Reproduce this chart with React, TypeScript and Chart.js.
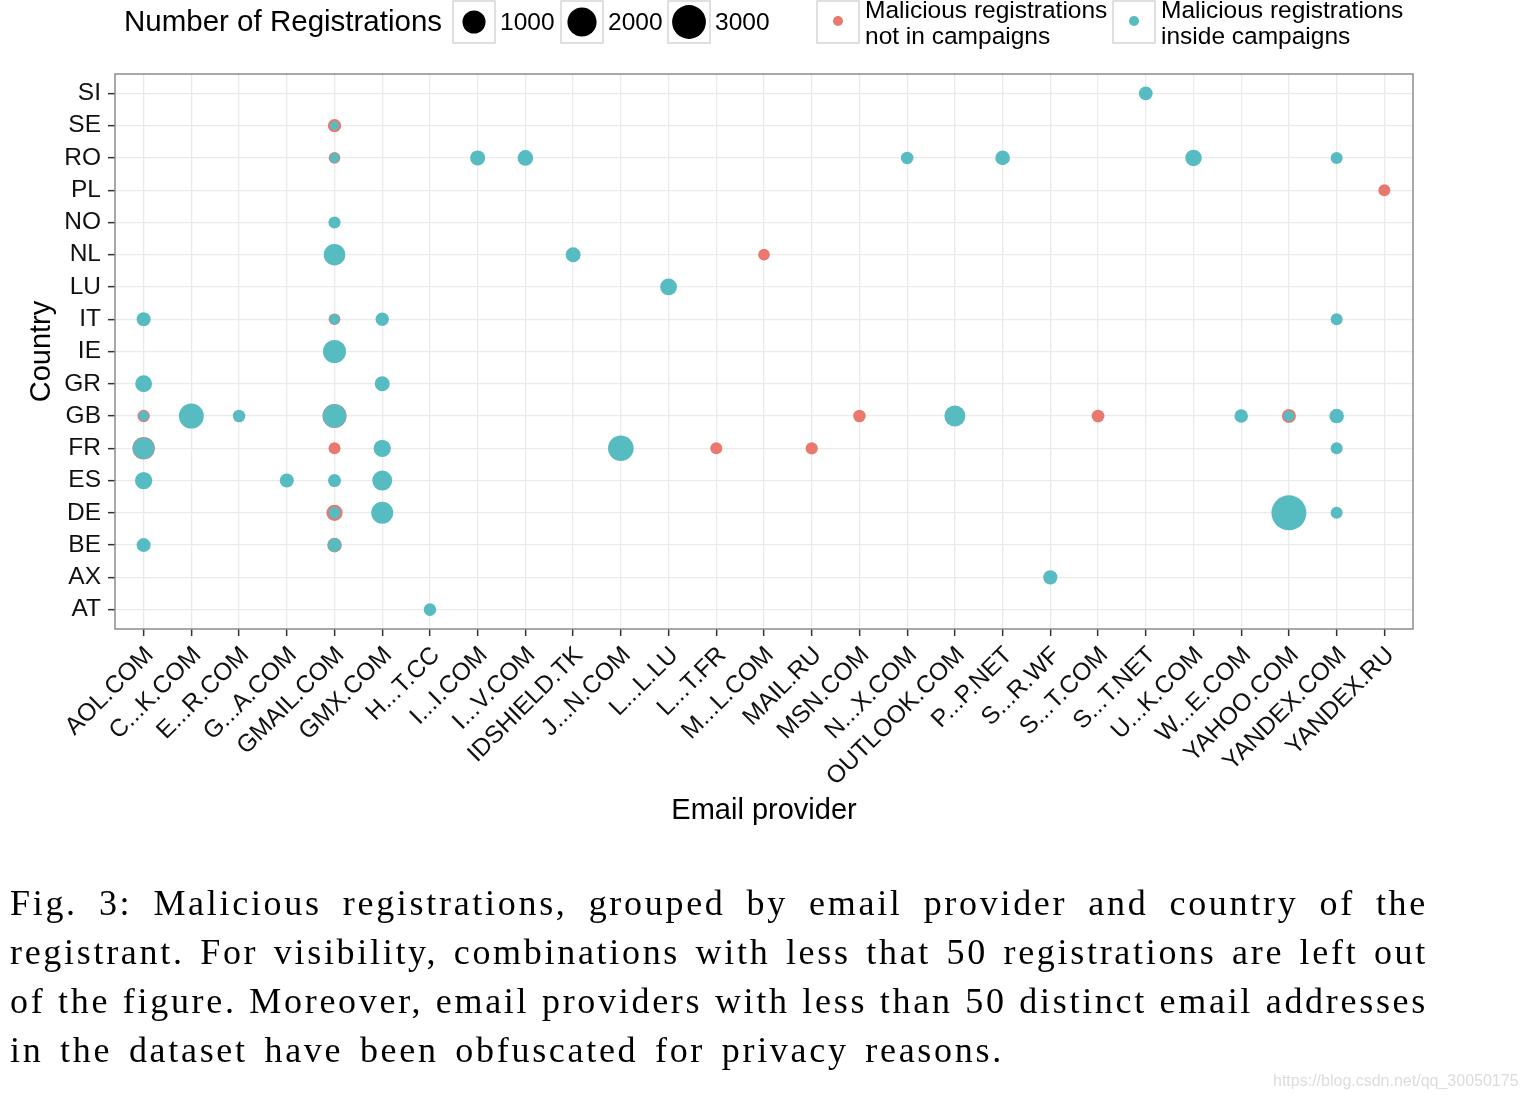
import React, { useEffect, useRef } from 'react';
import { Chart, registerables } from 'chart.js';

Chart.register(...registerables);

// ---------- data ----------
const providers = [
  'AOL.COM', 'C...K.COM', 'E...R.COM', 'G...A.COM', 'GMAIL.COM', 'GMX.COM', 'H...T.CC',
  'I...I.COM', 'I...V.COM', 'IDSHIELD.TK', 'J...N.COM', 'L...L.LU', 'L...T.FR', 'M...L.COM',
  'MAIL.RU', 'MSN.COM', 'N...X.COM', 'OUTLOOK.COM', 'P...P.NET', 'S...R.WF', 'S...T.COM',
  'S...T.NET', 'U...K.COM', 'W...E.COM', 'YAHOO.COM', 'YANDEX.COM', 'YANDEX.RU',
];

const countries = ['AT', 'AX', 'BE', 'DE', 'ES', 'FR', 'GB', 'GR', 'IE', 'IT', 'LU', 'NL', 'NO', 'PL', 'RO', 'SE', 'SI'];

// Malicious registrations inside campaigns
const insideProvider = [
  'AOL.COM', 'AOL.COM', 'AOL.COM', 'AOL.COM', 'AOL.COM', 'AOL.COM',
  'C...K.COM', 'E...R.COM', 'G...A.COM',
  'GMAIL.COM', 'GMAIL.COM', 'GMAIL.COM', 'GMAIL.COM', 'GMAIL.COM', 'GMAIL.COM', 'GMAIL.COM', 'GMAIL.COM', 'GMAIL.COM', 'GMAIL.COM',
  'GMX.COM', 'GMX.COM', 'GMX.COM', 'GMX.COM', 'GMX.COM',
  'H...T.CC', 'I...I.COM', 'I...V.COM', 'IDSHIELD.TK', 'J...N.COM', 'L...L.LU',
  'N...X.COM', 'OUTLOOK.COM', 'P...P.NET', 'S...R.WF', 'S...T.NET', 'U...K.COM', 'W...E.COM',
  'YAHOO.COM', 'YAHOO.COM',
  'YANDEX.COM', 'YANDEX.COM', 'YANDEX.COM', 'YANDEX.COM', 'YANDEX.COM',
];
const insideCountry = [
  'BE', 'ES', 'FR', 'GB', 'GR', 'IT',
  'GB', 'GB', 'ES',
  'SE', 'RO', 'NO', 'NL', 'IT', 'IE', 'GB', 'ES', 'DE', 'BE',
  'IT', 'GR', 'FR', 'ES', 'DE',
  'AT', 'RO', 'RO', 'NL', 'FR', 'LU',
  'RO', 'GB', 'RO', 'AX', 'SI', 'RO', 'GB',
  'GB', 'DE',
  'RO', 'IT', 'GB', 'FR', 'DE',
];
const insideCount = [
  170, 380, 800, 55, 350, 170,
  1280, 110, 170,
  50, 55, 95, 800, 60, 1000, 1050, 127, 93, 150,
  140, 223, 380, 631, 860,
  110, 223, 260, 223, 1380, 340,
  110, 740, 200, 180, 160, 320, 150,
  65, 3300,
  93, 93, 200, 93, 93,
];

// Malicious registrations not in campaigns
const outsideProvider = [
  'AOL.COM', 'AOL.COM',
  'GMAIL.COM', 'GMAIL.COM', 'GMAIL.COM', 'GMAIL.COM', 'GMAIL.COM', 'GMAIL.COM', 'GMAIL.COM',
  'L...T.FR', 'M...L.COM', 'MAIL.RU', 'MSN.COM', 'S...T.COM', 'YAHOO.COM', 'YANDEX.RU',
];
const outsideCountry = [
  'GB', 'FR',
  'SE', 'RO', 'IT', 'GB', 'FR', 'DE', 'BE',
  'FR', 'NL', 'FR', 'GB', 'GB', 'GB', 'PL',
];
const outsideCount = [
  105, 930,
  140, 85, 85, 1140, 93, 300, 200,
  93, 85, 100, 110, 120, 170, 93,
];

const legendSizes = [1000, 2000, 3000];

const captionLines = [
  'Fig. 3: Malicious registrations, grouped by email provider and country of the',
  'registrant. For visibility, combinations with less that 50 registrations are left out',
  'of the figure. Moreover, email providers with less than 50 distinct email addresses',
  'in the dataset have been obfuscated for privacy reasons.',
];

// ---------- styles ----------
const TEAL = '#56BCC2';
const RED = '#E9796F';
const SANS = '"Liberation Sans", Arial, sans-serif';

function sizeToRadius(v: number): number {
  return 4.5 + 13.5 * Math.sqrt(Math.max(0, v - 50) / 3500);
}

function toPoints(p: string[], c: string[], v: number[]) {
  return p.map((name, i) => ({ x: providers.indexOf(name), y: countries.indexOf(c[i]), v: v[i] }));
}

const overlayPlugin = {
  id: 'overlay',
  afterDraw(chart: any) {
    const ctx: CanvasRenderingContext2D = chart.ctx;
    const a = chart.chartArea;
    ctx.save();
    // panel border
    ctx.strokeStyle = '#8c8c8c';
    ctx.lineWidth = 1.5;
    ctx.strokeRect(a.left, a.top, a.right - a.left, a.bottom - a.top);

    // axis titles
    ctx.fillStyle = '#000';
    ctx.font = `29px ${SANS}`;
    ctx.textAlign = 'center';
    ctx.textBaseline = 'middle';
    ctx.fillText('Email provider', (a.left + a.right) / 2, 811);
    ctx.save();
    ctx.translate(42, (a.top + a.bottom) / 2);
    ctx.rotate(-Math.PI / 2);
    ctx.fillText('Country', 0, 0);
    ctx.restore();

    // legend: size
    ctx.textAlign = 'left';
    ctx.font = `29.5px ${SANS}`;
    ctx.fillText('Number of Registrations', 124, 23);
    const boxX = [453, 561, 668];
    ctx.font = `24.5px ${SANS}`;
    legendSizes.forEach((s, i) => {
      const bx = boxX[i];
      ctx.strokeStyle = '#d6d6d6';
      ctx.lineWidth = 1.5;
      ctx.strokeRect(bx, 1, 42, 42);
      ctx.fillStyle = '#000';
      ctx.beginPath();
      ctx.arc(bx + 21, 22, sizeToRadius(s), 0, Math.PI * 2);
      ctx.fill();
      ctx.fillText(String(s), bx + 47, 23);
    });

    // legend: colour
    const colorKeys = [
      { x: 817, color: RED, lines: ['Malicious registrations', 'not in campaigns'] },
      { x: 1113, color: TEAL, lines: ['Malicious registrations', 'inside campaigns'] },
    ];
    colorKeys.forEach((k) => {
      ctx.strokeStyle = '#d6d6d6';
      ctx.lineWidth = 1.5;
      ctx.strokeRect(k.x, 1, 42, 42);
      ctx.fillStyle = k.color;
      ctx.beginPath();
      ctx.arc(k.x + 21, 21, 5, 0, Math.PI * 2);
      ctx.fill();
      ctx.fillStyle = '#000';
      ctx.fillText(k.lines[0], k.x + 48, 11);
      ctx.fillText(k.lines[1], k.x + 48, 37);
    });
    ctx.restore();
  },
};

export default function App() {
  const canvasRef = useRef<HTMLCanvasElement | null>(null);

  useEffect(() => {
    if (!canvasRef.current) return;
    const tickFont = { family: SANS, size: 24.5 };
    const chart = new Chart(canvasRef.current, {
      type: 'scatter',
      data: {
        datasets: [
          {
            label: 'Malicious registrations inside campaigns',
            data: toPoints(insideProvider, insideCountry, insideCount),
            backgroundColor: TEAL,
            borderWidth: 0,
            pointRadius: (ctx: any) => sizeToRadius(ctx.raw ? ctx.raw.v : 50),
            pointHoverRadius: (ctx: any) => sizeToRadius(ctx.raw ? ctx.raw.v : 50),
          },
          {
            label: 'Malicious registrations not in campaigns',
            data: toPoints(outsideProvider, outsideCountry, outsideCount),
            backgroundColor: RED,
            borderWidth: 0,
            pointRadius: (ctx: any) => sizeToRadius(ctx.raw ? ctx.raw.v : 50),
            pointHoverRadius: (ctx: any) => sizeToRadius(ctx.raw ? ctx.raw.v : 50),
          },
        ],
      } as any,
      options: {
        responsive: false,
        animation: false,
        events: [],
        layout: { padding: { left: 0, top: 74, right: 113, bottom: 271 } },
        plugins: { legend: { display: false }, tooltip: { enabled: false } },
        scales: {
          x: {
            type: 'linear',
            min: -0.6,
            max: providers.length - 0.4,
            afterBuildTicks: (s: any) => {
              s.ticks = providers.map((_, i) => ({ value: i }));
            },
            afterFit: (s: any) => {
              s.height = 200;
            },
            ticks: {
              autoSkip: false,
              minRotation: 45,
              maxRotation: 45,
              padding: 5,
              labelOffset: 6,
              color: '#111',
              font: tickFont,
              callback: (v: any) => providers[Math.round(Number(v))] ?? '',
            },
            grid: { color: '#EAEAEA', lineWidth: 1.3, tickColor: '#333', tickLength: 7, tickWidth: 1.5 },
            border: { display: false },
          },
          y: {
            type: 'linear',
            min: -0.6,
            max: countries.length - 0.4,
            afterBuildTicks: (s: any) => {
              s.ticks = countries.map((_, i) => ({ value: i }));
            },
            afterFit: (s: any) => {
              s.width = 115;
            },
            ticks: {
              autoSkip: false,
              padding: 7,
              color: '#111',
              font: tickFont,
              callback: (v: any) => countries[Math.round(Number(v))] ?? '',
            },
            grid: { color: '#EAEAEA', lineWidth: 1.3, tickColor: '#333', tickLength: 7, tickWidth: 1.5 },
            border: { display: false },
          },
        },
      } as any,
      plugins: [overlayPlugin],
    });
    return () => chart.destroy();
  }, []);

  const last = captionLines.length - 1;

  return (
    <div>
      <canvas
        ref={canvasRef}
        width={1526}
        height={1100}
        style={{ position: 'absolute', left: 0, top: 0, width: 1526, height: 1100 }}
      />
      <div
        style={{
          position: 'absolute',
          left: 10,
          top: 879,
          width: 1418,
          fontFamily: '"Liberation Serif", "Times New Roman", serif',
          fontSize: 36,
          lineHeight: '49px',
          letterSpacing: '2.7px',
          color: '#000',
        }}
      >
        {captionLines.map((l, i) => (
          <div
            key={i}
            style={{
              whiteSpace: 'nowrap',
              textAlign: i < last ? 'justify' : 'left',
              textAlignLast: i < last ? 'justify' : 'left',
              wordSpacing: i < last ? '0px' : '5px',
            } as any}
          >
            {l}
          </div>
        ))}
      </div>
      <div
        style={{
          position: 'absolute',
          left: 1273,
          top: 1072,
          fontFamily: SANS,
          fontSize: 16,
          color: '#dcdcdc',
          whiteSpace: 'nowrap',
        }}
      >
        https://blog.csdn.net/qq_30050175
      </div>
    </div>
  );
}
